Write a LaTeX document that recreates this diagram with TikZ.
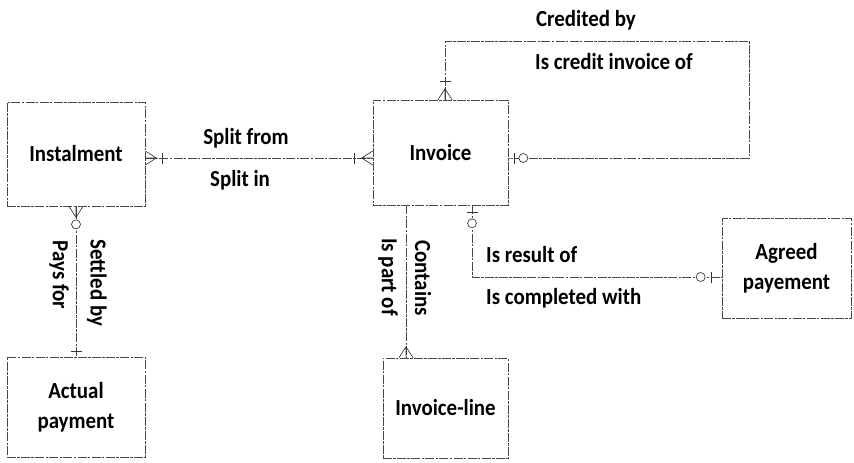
\documentclass[tikz,border=0pt]{standalone}
\usepackage{fontspec}
\setmainfont{Carlito}[FakeStretch=0.91]
\usetikzlibrary{calc}

\tikzset{
  erline/.style={draw=black!72, line width=0.65pt,
    dash pattern=on 9pt off 1.3pt on 2.5pt off 1.3pt},
  marker/.style={draw=black!80, line width=0.65pt, solid},
  entity/.style={erline, rectangle, align=center,
    font=\fontsize{23}{30}\selectfont\bfseries},
  rolelabel/.style={font=\fontsize{23}{30}\selectfont\bfseries, inner sep=0pt},
  % crow's foot: entity edge at the origin, relationship line along +x
  crowfoot/.pic={\draw[marker] (0,-7) -- (11,0) -- (0,7) (0,0) -- (11,0);},
  barmark/.pic={\draw[marker] (#1,-5.5) -- (#1,5.5);},
  ringmark/.pic={\draw[marker, fill=white] (#1,0) circle[radius=4.5];}
}

\begin{document}
\begin{tikzpicture}[x=1pt, y=-1pt]
\useasboundingbox (0,0) rectangle (854,463);

% entities
\node[entity, minimum width=138pt, minimum height=104pt] (inst) at (76,154) {Instalment};
\node[entity, minimum width=135pt, minimum height=105pt] (inv) at (440.5,152.5) {Invoice};
\node[entity, minimum width=138pt, minimum height=100pt] (act) at (76,407) {Actual\\payment};
\node[entity, minimum width=125pt, minimum height=100pt] (invl) at (445.5,408) {Invoice-line};
\node[entity, minimum width=129pt, minimum height=100pt] (agr) at (786.5,268) {Agreed\\payement};

% helper coordinates for line positions
\coordinate (sy) at (0,158);
\coordinate (lx) at (445,0);
\coordinate (ltop) at (749,41);
\coordinate (cx) at (406,0);
\coordinate (rx) at (472,0);
\coordinate (ry) at (0,277);

% Instalment -- Invoice
\draw[erline] (inst.east |- sy) -- (inv.west |- sy);
\pic at (inst.east |- sy) {crowfoot};
\pic at (inst.east |- sy) {barmark=17};
\pic[rotate=180] at (inv.west |- sy) {crowfoot};
\pic[rotate=180] at (inv.west |- sy) {barmark=18};
\node[rolelabel] (lsf) at (246,138) {Split from};
\node[rolelabel] (lsi) at (240,180) {Split in};

% Instalment -- Actual payment
\draw[erline] (inst.south) -- (act.north);
\pic[rotate=-90] at (inst.south) {crowfoot};
\pic[rotate=-90] at (inst.south) {ringmark=18};
\pic[rotate=90] at (act.north) {barmark=5};
\node[rolelabel, rotate=-90] (lsb) at (97,283) {Settled by};
\node[rolelabel, rotate=-90] (lpf) at (59,275) {Pays for};

% Invoice self relationship
\draw[erline] (inv.north -| lx) |- (ltop) |- (inv.east |- sy);
\pic[rotate=90] at (inv.north -| lx) {crowfoot};
\pic[rotate=90] at (inv.north -| lx) {barmark=18};
\pic at (inv.east |- sy) {barmark=6};
\pic at (inv.east |- sy) {ringmark=15};
\node[rolelabel] (lcb) at (586,20) {Credited by};
\node[rolelabel] (lci) at (614,62) {Is credit invoice of};

% Invoice -- Invoice-line
\draw[erline] (inv.south -| cx) -- (invl.north -| cx);
\pic[rotate=90] at (invl.north -| cx) {crowfoot};
\node[rolelabel, rotate=-90] (lco) at (423,278) {Contains};
\node[rolelabel, rotate=-90] (lpo) at (388,277) {Is part of};

% Invoice -- Agreed payement
\draw[erline] (inv.south -| rx) |- (agr.west |- ry);
\pic[rotate=-90] at (inv.south -| rx) {barmark=7};
\pic[rotate=-90] at (inv.south -| rx) {ringmark=18};
\pic[rotate=180] at (agr.west |- ry) {barmark=10};
\pic[rotate=180] at (agr.west |- ry) {ringmark=21};
\node[rolelabel, anchor=west] (lro) at (486,255) {Is result of};
\node[rolelabel, anchor=west] (lcw) at (486,298) {Is completed with};
\end{tikzpicture}
\end{document}
